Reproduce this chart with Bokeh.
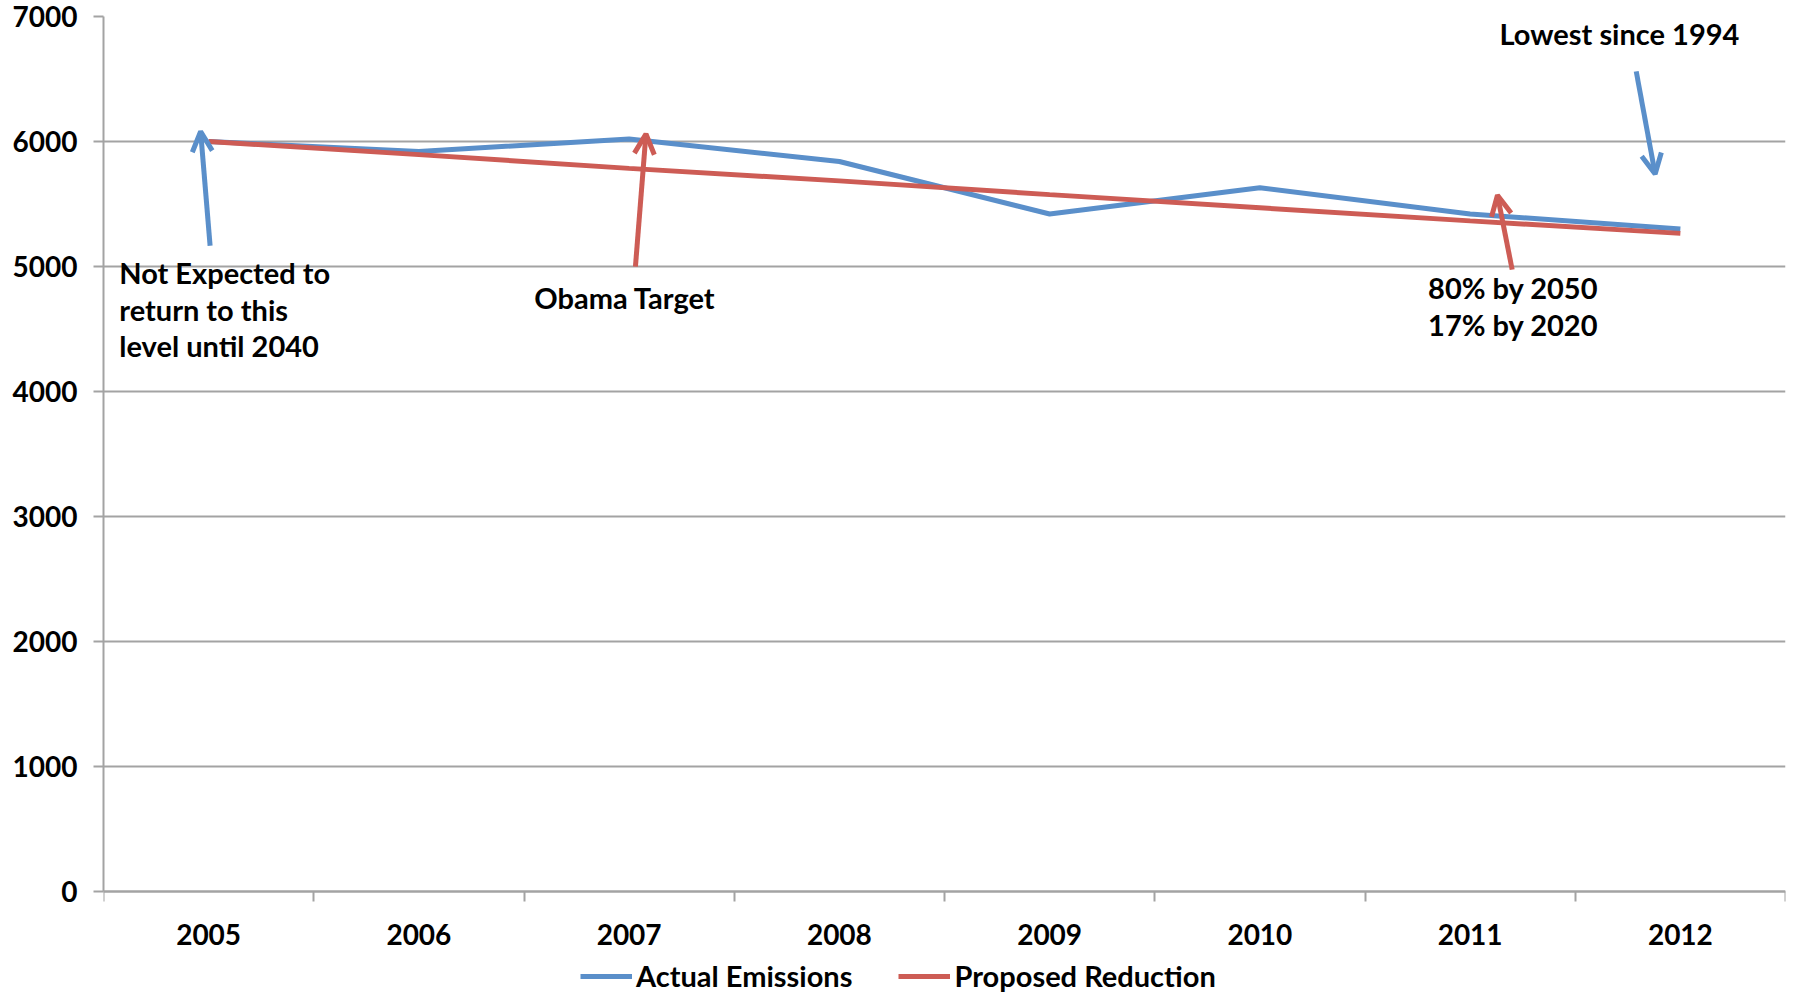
from bokeh.plotting import figure
from bokeh.models import (FixedTicker, Arrow, OpenHead, Legend, LegendItem,
                          ColumnDataSource, Range1d, LinearAxis)
from bokeh.core.properties import value
from bokeh.embed import file_html
from bokeh.resources import INLINE

# ---- data ----
years = [2005, 2006, 2007, 2008, 2009, 2010, 2011, 2012]
actual_emissions = [6000, 5920, 6020, 5840, 5420, 5630, 5420, 5300]
proposed_reduction = [6000, 5895, 5785, 5685, 5575, 5470, 5365, 5265]
y_ticks = [0, 1000, 2000, 3000, 4000, 5000, 6000, 7000]

# annotation texts with anchor points (data units)
note_lines = ["Not Expected to", "return to this", "level until 2040"]
note_x = [2004.575, 2004.575, 2004.575]
note_y = [4951, 4656, 4369]
obama_text = ["Obama Target"]
obama_x = [2006.98]
obama_y = [4752]
pct_lines = ["80% by 2050", "17% by 2020"]
pct_x = [2010.80, 2010.80]
pct_y = [4831, 4536]
lowest_text = ["Lowest since 1994"]
lowest_x = [2011.14]
lowest_y = [6864]

# arrows: (x_start, y_start, x_end, y_end, color)
arrows = [
    (2005.007, 5166, 2004.962, 6080, "blue"),
    (2007.03, 4999, 2007.08, 6060, "red"),
    (2011.20, 4975, 2011.13, 5570, "red"),
    (2011.79, 6561, 2011.88, 5740, "blue"),
]

BLUE = "#5A8FCA"
RED = "#CD5C55"
GRID = "#A3A3A3"
FONT = "Lato"

# frame reaches the bottom of the window; the x axis sits at y = 0 inside it,
# leaving room under it for the legend
p = figure(frame_width=1682, frame_height=985,
           output_backend="svg", toolbar_location=None,
           x_axis_location=None,
           x_range=Range1d(2004.5, 2012.5), y_range=Range1d(-880, 7000),
           min_border_left=103, min_border_right=12, min_border_top=16,
           min_border_bottom=0)
p.outline_line_color = None
p.background_fill_color = "white"
p.border_fill_color = "white"

# y axis
p.yaxis.ticker = FixedTicker(ticks=y_ticks)
p.yaxis.bounds = (0, 7000)
p.yaxis.axis_line_color = GRID
p.yaxis.axis_line_width = 2
p.yaxis.major_tick_line_color = GRID
p.yaxis.major_tick_line_width = 2
p.yaxis.major_tick_out = 10
p.yaxis.major_tick_in = 0
p.yaxis.minor_tick_line_color = None
p.yaxis.major_label_text_font = FONT
p.yaxis.major_label_text_font_style = "bold"
p.yaxis.major_label_text_font_size = "28px"
p.yaxis.major_label_text_color = "black"
p.yaxis.major_label_standoff = 16

# x axis at y = 0: labels at centers, ticks at boundaries
xaxis = LinearAxis(fixed_location=0,
                   ticker=FixedTicker(ticks=years,
                                      minor_ticks=[y - 0.5 for y in years] + [years[-1] + 0.5]))
xaxis.axis_line_color = GRID
xaxis.axis_line_width = 2
xaxis.major_tick_line_color = None
xaxis.major_tick_out = 0
xaxis.major_tick_in = 0
xaxis.minor_tick_line_color = GRID
xaxis.minor_tick_line_width = 2
xaxis.minor_tick_out = 10
xaxis.minor_tick_in = 0
xaxis.major_label_text_font = FONT
xaxis.major_label_text_font_style = "bold"
xaxis.major_label_text_font_size = "28px"
xaxis.major_label_text_color = "black"
xaxis.major_label_standoff = 22
p.add_layout(xaxis, "below")

for g in p.xgrid:
    g.grid_line_color = None
p.ygrid.ticker = FixedTicker(ticks=y_ticks)
p.ygrid.grid_line_color = GRID
p.ygrid.grid_line_width = 2

src = ColumnDataSource(dict(x=years, a=actual_emissions, r=proposed_reduction))
ra = p.line("x", "a", source=src, line_color=BLUE, line_width=5)
rr = p.line("x", "r", source=src, line_color=RED, line_width=5)

# arrows
for xs, ys, xe, ye, c in arrows:
    col = BLUE if c == "blue" else RED
    p.add_layout(Arrow(x_start=xs, y_start=ys, x_end=xe, y_end=ye,
                       line_color=col, line_width=5,
                       end=OpenHead(size=20, line_color=col, line_width=5)))

def txt(xs, ys, texts, align="left"):
    p.text(x=xs, y=ys, text=texts, text_font=value(FONT), text_font_style="bold",
           text_font_size="29px", text_color="black", text_align=align,
           text_baseline="middle")

txt(note_x, note_y, note_lines)
txt(obama_x, obama_y, obama_text, align="center")
txt(pct_x, pct_y, pct_lines)
txt(lowest_x, lowest_y, lowest_text)

legend = Legend(items=[LegendItem(label="Actual Emissions", renderers=[ra]),
                       LegendItem(label="Proposed Reduction", renderers=[rr])],
                orientation="horizontal", location=(477, 8),
                label_text_font=FONT, label_text_font_style="bold",
                label_text_font_size="29px", label_text_color="black",
                glyph_width=52, glyph_height=20, label_height=20,
                label_standoff=4, spacing=46,
                padding=0, margin=0, border_line_color=None,
                background_fill_alpha=0)
p.add_layout(legend, "center")

open("out.html", "w").write(file_html(p, INLINE))
